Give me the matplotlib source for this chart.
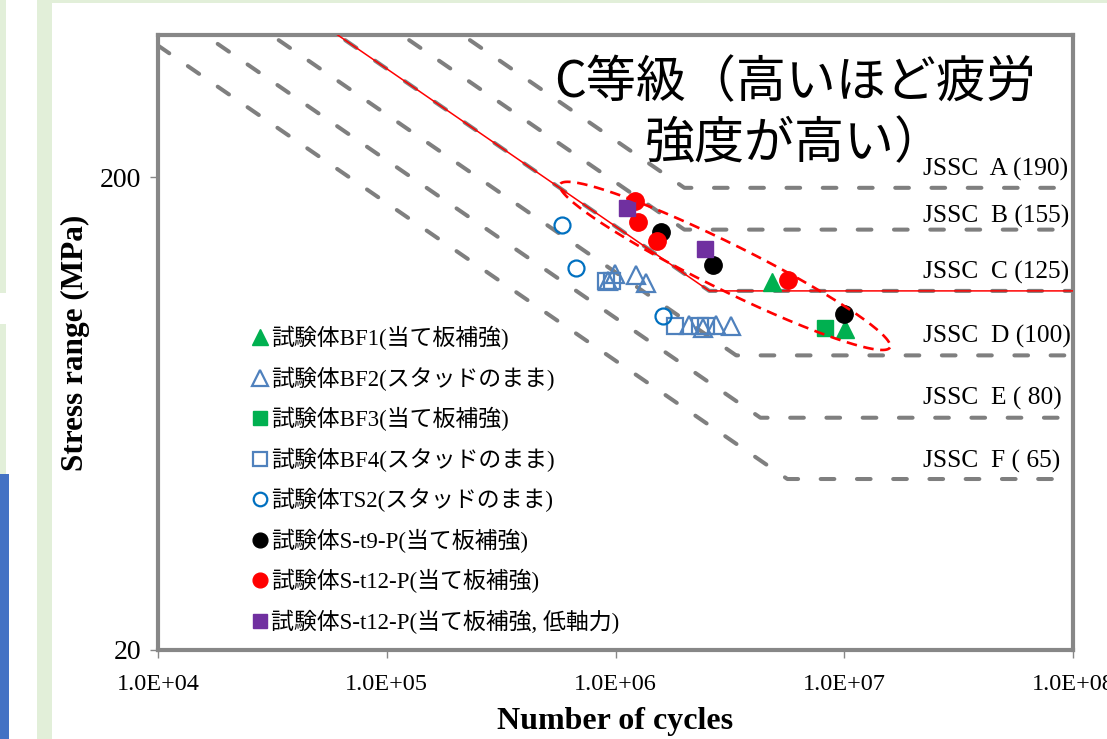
import numpy as np
import matplotlib
matplotlib.use("Agg")
import matplotlib.pyplot as plt
from matplotlib.patches import Rectangle
from matplotlib.lines import Line2D
from matplotlib.font_manager import FontProperties
from matplotlib.transforms import IdentityTransform

# ---------------- data ----------------
# JSSC fatigue categories: label, start stress at N=1e4, knee N, CAFL
jssc_labels = ["JSSC  A (190)", "JSSC  B (155)", "JSSC  C (125)",
               "JSSC  D (100)", "JSSC  E ( 80)", "JSSC  F ( 65)"]
jssc_label_S = [208, 165, 126, 92, 68, 50]
jssc_start_N = [1.0e4, 1.0e4, 1.0e4, 1.0e4, 1.0e4, 1.0e4]
jssc_start_S = [1111, 906, 731, 585, 468, 380]
jssc_knee_N = [2.0e6, 2.0e6, 2.57e6, 3.37e6, 4.30e6, 5.64e6]
jssc_cafl = [190, 155, 115, 84, 62, 46]
jssc_end_N = 1.0e8

bf1_N = [4.83e6, 1.007e7]
bf1_S = [120.1, 95.3]
bf2_N = [9.27e5, 9.95e5, 1.23e6, 1.36e6, 2.10e6, 2.41e6, 2.75e6, 3.20e6]
bf2_S = [120.4, 124.6, 124.0, 119.8, 97.6, 96.2, 97.6, 96.7]
bf3_N = [8.24e6]
bf3_S = [96.2]
bf4_N = [9.09e5, 9.66e5, 1.82e6, 2.34e6, 2.49e6]
bf4_S = [120.4, 120.4, 96.7, 96.7, 96.7]
ts2_N = [5.83e5, 6.72e5, 1.61e6]
ts2_S = [158.2, 128.3, 102.0]
st9_N = [1.58e6, 2.67e6, 9.97e6]
st9_S = [152.9, 130.2, 103.0]
st12_N = [1.22e6, 1.25e6, 1.52e6, 5.68e6]
st12_S = [177.9, 160.6, 146.3, 121.0]
st12low_N = [1.12e6, 2.46e6]
st12low_S = [171.9, 140.8]

series_labels = ["試験体BF1(当て板補強)", "試験体BF2(スタッドのまま)", "試験体BF3(当て板補強)",
                 "試験体BF4(スタッドのまま)", "試験体TS2(スタッドのまま)", "試験体S-t9-P(当て板補強)",
                 "試験体S-t12-P(当て板補強)", "試験体S-t12-P(当て板補強, 低軸力)"]

x_ticks = [1e4, 1e5, 1e6, 1e7, 1e8]
x_ticklabels = ["1.0E+04", "1.0E+05", "1.0E+06", "1.0E+07", "1.0E+08"]
y_ticks = [20, 200]
y_ticklabels = ["20", "200"]

title_text = "C等級（高いほど疲労\n強度が高い）"

# ---------------- figure ----------------
W, H = 1107, 739
fig = plt.figure(figsize=(W / 100, H / 100), dpi=100)
fig.patch.set_facecolor("white")

green = "#E2EFD9"
def rect_px(x0, y0, x1, y1, color):
    fig.patches.append(Rectangle((x0 / W, 1 - y1 / H), (x1 - x0) / W, (y1 - y0) / H,
                                 transform=fig.transFigure, color=color, zorder=-10, lw=0))
rect_px(0, 0, 6, 293, green)
rect_px(0, 324, 6, 474, green)
rect_px(0, 474, 9, 739, "#4472C4")
rect_px(37, 0, 52, 739, green)
rect_px(37, 0, 1107, 3, green)

ax_l, ax_r, ax_t, ax_b = 158, 1073, 35, 650
ax = fig.add_axes([ax_l / W, 1 - ax_b / H, (ax_r - ax_l) / W, (ax_b - ax_t) / H])
ax.set_xscale("log")
ax.set_yscale("log")
ax.set_xlim(1e4, 1e8)
ax.set_ylim(20, 400)

gray = "#878787"
for sp in ax.spines.values():
    sp.set_color(gray)
    sp.set_linewidth(3.0)

# JSSC lines
for i in range(len(jssc_labels)):
    xs = [jssc_start_N[i], jssc_knee_N[i], jssc_end_N]
    ys = [jssc_start_S[i], jssc_cafl[i], jssc_cafl[i]]
    ax.plot(xs, ys, color="#7F7F7F", lw=2.9, dashes=(3.4, 5.6),
            dash_capstyle="round", solid_capstyle="round", zorder=2)
# red C line
ax.plot([jssc_start_N[2], jssc_knee_N[2], jssc_end_N],
        [jssc_start_S[2], jssc_cafl[2], jssc_cafl[2]], color="#FF0000", lw=1.1, zorder=3)

# JSSC labels
serif = "Liberation Serif"
for i, lab in enumerate(jssc_labels):
    ax.text((923 - ax_l) / (ax_r - ax_l), jssc_label_S[i], lab, transform=ax.get_yaxis_transform(),
            fontsize=18.3, family=serif, ha="left", va="center", zorder=5)

# data series
ms = 12.5
h1, = ax.plot(bf1_N, bf1_S, ls="none", marker="^", ms=ms + 1, color="#00B050", mec="#00B050", zorder=6)
h2, = ax.plot(bf2_N, bf2_S, ls="none", marker="^", ms=ms + 1, mfc="none", mec="#4F81BD", mew=1.6, zorder=6)
h3, = ax.plot(bf3_N, bf3_S, ls="none", marker="s", ms=ms - 1, color="#00B050", zorder=6)
h4, = ax.plot(bf4_N, bf4_S, ls="none", marker="s", ms=ms - 1, mfc="none", mec="#4F81BD", mew=1.6, zorder=6)
h5, = ax.plot(ts2_N, ts2_S, ls="none", marker="o", ms=ms - 1, mfc="none", mec="#0070C0", mew=1.6, zorder=6)
h6, = ax.plot(st9_N, st9_S, ls="none", marker="o", ms=ms, color="black", zorder=6)
h7, = ax.plot(st12_N, st12_S, ls="none", marker="o", ms=ms, color="#FF0000", zorder=6)
h8, = ax.plot(st12low_N, st12low_S, ls="none", marker="s", ms=ms - 0.5, color="#7030A0", zorder=6)

# ellipse annotation (pixel-space shape)
fig.canvas.draw()
cx, cy = ax.transData.transform((3.01e6, 129.9))
a, b = 184.0, 23.0
ang = np.deg2rad(26.3)
t = np.linspace(0, 2 * np.pi, 400)
ex = a * np.cos(t)
ey = b * np.sin(t)
px = cx + ex * np.cos(ang) - ey * np.sin(ang)
py = cy - (ex * np.sin(ang) + ey * np.cos(ang))
ax.add_line(Line2D(px, py, transform=IdentityTransform(), color="#FF0000", lw=1.9,
                   dashes=(4, 2.5), zorder=7))

# ticks
ax.set_xticks(x_ticks)
ax.set_xticklabels(x_ticklabels)
ax.set_yticks(y_ticks)
ax.set_yticklabels(y_ticklabels)
ax.minorticks_off()
ax.tick_params(axis="x", direction="out", length=6, width=1, color=gray, pad=11, labelsize=17.5)
ax.tick_params(axis="y", direction="out", length=6, width=1, color=gray, pad=6, labelsize=20)
for lbl in ax.get_xticklabels() + ax.get_yticklabels():
    lbl.set_family(serif)

ax.set_xlabel("Number of cycles", family=serif, fontweight="bold", fontsize=23)
ax.set_ylabel("Stress range (MPa)", family=serif, fontweight="bold", fontsize=22.5)
ax.xaxis.set_label_coords(0.5, (ax_b - 722) / (ax_b - ax_t))
ax.xaxis.label.set_va("center")
ax.yaxis.set_label_coords((75 - ax_l) / (ax_r - ax_l), 0.5)
ax.yaxis.label.set_va("center")

# title
ax.text((795 - ax_l) / (ax_r - ax_l), (ax_b - 114) / (ax_b - ax_t), title_text,
        transform=ax.transAxes, family=["Noto Sans CJK JP", "DejaVu Sans"], fontsize=36,
        ha="center", va="center", multialignment="center", linespacing=1.22, zorder=8)

# legend
leg = ax.legend([h1, h2, h3, h4, h5, h6, h7, h8], series_labels,
                prop=FontProperties(family=[serif, "Noto Sans CJK JP"], size=16.5),
                frameon=False, loc="upper left",
                bbox_to_anchor=((252 - ax_l) / (ax_r - ax_l), (ax_b - 326) / (ax_b - ax_t)),
                borderaxespad=0, borderpad=0, handlelength=0.7, handletextpad=0.15,
                labelspacing=0.71, markerscale=0.85)
leg.set_zorder(9)

fig.savefig("out.png", dpi=100)
